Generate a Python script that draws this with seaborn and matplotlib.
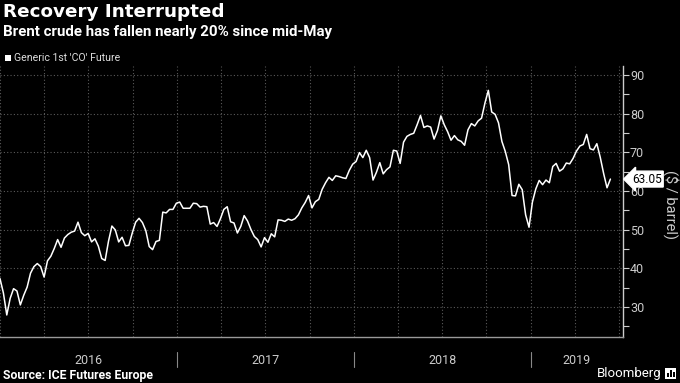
import matplotlib
matplotlib.use('Agg')
import matplotlib.pyplot as plt
import matplotlib.dates as mdates
from matplotlib import transforms
from matplotlib.lines import Line2D
from matplotlib.patches import Rectangle
from matplotlib.ticker import MultipleLocator, NullFormatter
import pandas as pd
import seaborn as sns

# weekly Brent (Generic 1st 'CO' Future), $/barrel
prices_2016 = [37.3, 33.6, 27.9, 32.2, 34.7, 34.1, 30.5, 33.0, 35.1, 38.7,
               40.4, 41.2, 40.4, 37.7, 41.9, 43.1, 45.1, 47.4, 45.4, 47.8,
               48.7, 49.3, 49.6, 51.9, 49.2, 48.4, 49.0, 46.8, 47.6, 45.7,
               42.5, 42.0, 47.0, 50.9, 49.9, 46.8, 48.0, 45.8, 45.9, 49.1,
               51.9, 52.9, 51.8, 49.7, 45.6, 44.8, 46.9, 47.2, 54.5, 54.3,
               55.2, 55.2, 56.8]
prices_2017 = [57.1, 55.5, 55.5, 55.5, 56.8, 56.7, 55.8, 56.0, 55.9, 51.4,
               51.8, 50.8, 52.8, 55.2, 55.9, 52.0, 51.7, 49.1, 50.8, 53.6,
               52.2, 50.0, 48.2, 47.4, 45.5, 47.9, 46.7, 48.9, 48.1, 52.5,
               52.4, 52.1, 52.7, 52.4, 52.8, 53.8, 55.6, 57.0, 58.8, 55.6,
               57.2, 57.8, 60.4, 62.1, 63.5, 62.7, 63.9, 63.7, 63.4, 63.2,
               65.3, 66.9]
prices_2018 = [67.6, 69.9, 68.6, 70.5, 68.6, 62.8, 64.8, 67.3, 64.4, 65.5,
               66.2, 70.5, 70.3, 67.1, 72.6, 74.1, 74.6, 74.9, 77.1, 79.5,
               76.4, 76.8, 76.5, 73.4, 75.6, 79.4, 77.1, 75.3, 73.1, 74.3,
               73.2, 72.8, 71.8, 75.8, 77.4, 76.8, 78.1, 78.8, 82.7, 86.0,
               80.4, 79.8, 77.6, 72.8, 70.2, 66.8, 58.8, 58.7, 61.7, 60.3,
               53.8, 50.6]
prices_2019 = [57.1, 60.5, 62.7, 61.6, 62.8, 62.1, 66.3, 67.1, 65.1, 65.7,
               67.2, 67.0, 68.4, 70.3, 71.6, 72.0, 74.6, 70.9, 70.6, 72.2,
               68.7, 64.5, 60.8, 63.05]
years = ['2016', '2017', '2018', '2019']
last_price = 63.05

prices = prices_2016 + prices_2017 + prices_2018 + prices_2019
df = pd.DataFrame({'date': pd.date_range('2016-01-01', periods=len(prices), freq='7D'),
                   'price': prices})

sns.set_theme(style='dark')
plt.rcParams['font.family'] = ['Roboto', 'DejaVu Sans']

W, H = 680, 383
fig = plt.figure(figsize=(6.8, 3.83), dpi=100, facecolor='black')
ax = fig.add_axes([0, 46 / H, 623 / W, 271 / H])
ax.set_facecolor('black')

sns.lineplot(data=df, x='date', y='price', color='white', linewidth=1.1, ax=ax)

x0, x1 = pd.Timestamp('2016-01-01'), pd.Timestamp('2019-07-10')
ax.set_xlim(x0, x1)
ax.set_ylim(22.2, 92.3)
ax.set_xlabel('')
ax.set_ylabel('')

# axes styling
for s in ['left', 'top']:
    ax.spines[s].set_visible(False)
ax.spines['right'].set_color('#cccccc')
ax.spines['bottom'].set_color('#999999')
ax.spines['right'].set_linewidth(1)
ax.spines['bottom'].set_linewidth(1)

ax.yaxis.tick_right()
ax.yaxis.set_major_locator(MultipleLocator(10))
ax.yaxis.set_minor_locator(MultipleLocator(5))
ax.tick_params(axis='y', which='both', direction='out', length=4, width=0.8,
               color='#cccccc', labelcolor='#cccccc', labelsize=9, pad=1)
ax.xaxis.set_major_locator(mdates.MonthLocator(bymonth=[1, 4, 7, 10]))
ax.xaxis.set_minor_locator(mdates.MonthLocator())
ax.xaxis.set_major_formatter(NullFormatter())
ax.tick_params(axis='x', which='both', direction='out', length=3, width=0.8,
               color='#999999')
ax.grid(True, which='major', color='#5a5a5a', linestyle=(0, (1, 2)), linewidth=0.8)

# year labels centred on the visible part of each year, with separators
tr = transforms.blended_transform_factory(ax.transData, fig.transFigure)
for i, y in enumerate(years):
    start = max(pd.Timestamp(y + '-01-01'), x0)
    end = min(pd.Timestamp(str(int(y) + 1) + '-01-01'), x1)
    mid = start + (end - start) / 2
    ax.text(mdates.date2num(mid), 1 - 360 / H, y, transform=tr, ha='center',
            va='center', color='#cccccc', fontsize=9)
    if i > 0:
        xs = mdates.date2num(start)
        fig.add_artist(Line2D([xs, xs], [1 - 352 / H, 1 - 367 / H], transform=tr,
                              color='#888888', linewidth=0.8))

# last price tag
tag_tr = transforms.blended_transform_factory(ax.transAxes, ax.transData)
ax.text(632 / 623, last_price, f'{last_price:.2f}', transform=tag_tr, ha='left',
        va='center', fontsize=8.6, color='black', clip_on=False, zorder=10,
        bbox=dict(boxstyle='larrow,pad=0.12', facecolor='white', edgecolor='white'))

fig.text(671 / W, 1 - 205 / H, '($ / barrel)', rotation=-90, ha='center',
         va='center', color='#cccccc', fontsize=10.5)

# titles and legend
fig.text(3 / W, 1 - 3 / H, 'Recovery Interrupted', ha='left', va='top',
         color='white', fontsize=13.2, fontweight='bold', family='DejaVu Sans')
fig.text(3 / W, 1 - 25 / H, 'Brent crude has fallen nearly 20% since mid-May',
         ha='left', va='top', color='white', fontsize=10.8, fontweight='bold')
fig.add_artist(Rectangle((5 / W, 1 - 61 / H), 6 / W, 6 / H, transform=fig.transFigure,
                         facecolor='white', edgecolor='none'))
fig.text(14 / W, 1 - 58 / H, "Generic 1st 'CO' Future", ha='left', va='center',
         color='#dddddd', fontsize=7.6)

# footer
fig.text(3 / W, 1 - 375 / H, 'Source: ICE Futures Europe', ha='left', va='center',
         color='white', fontsize=8.8, fontweight='bold')
fig.text(661 / W, 1 - 374 / H, 'Bloomberg', ha='right', va='center',
         color='white', fontsize=9.5)
fig.add_artist(Rectangle((665 / W, 1 - 379 / H), 11 / W, 11 / H, transform=fig.transFigure,
                         facecolor='white', edgecolor='none'))
for bx, bh in [(667, 4), (670, 7), (673, 5)]:
    fig.add_artist(Rectangle((bx / W, 1 - 377 / H), 1.5 / W, bh / H,
                             transform=fig.transFigure, facecolor='black', edgecolor='none'))

fig.savefig('out.png', dpi=100, facecolor='black')
